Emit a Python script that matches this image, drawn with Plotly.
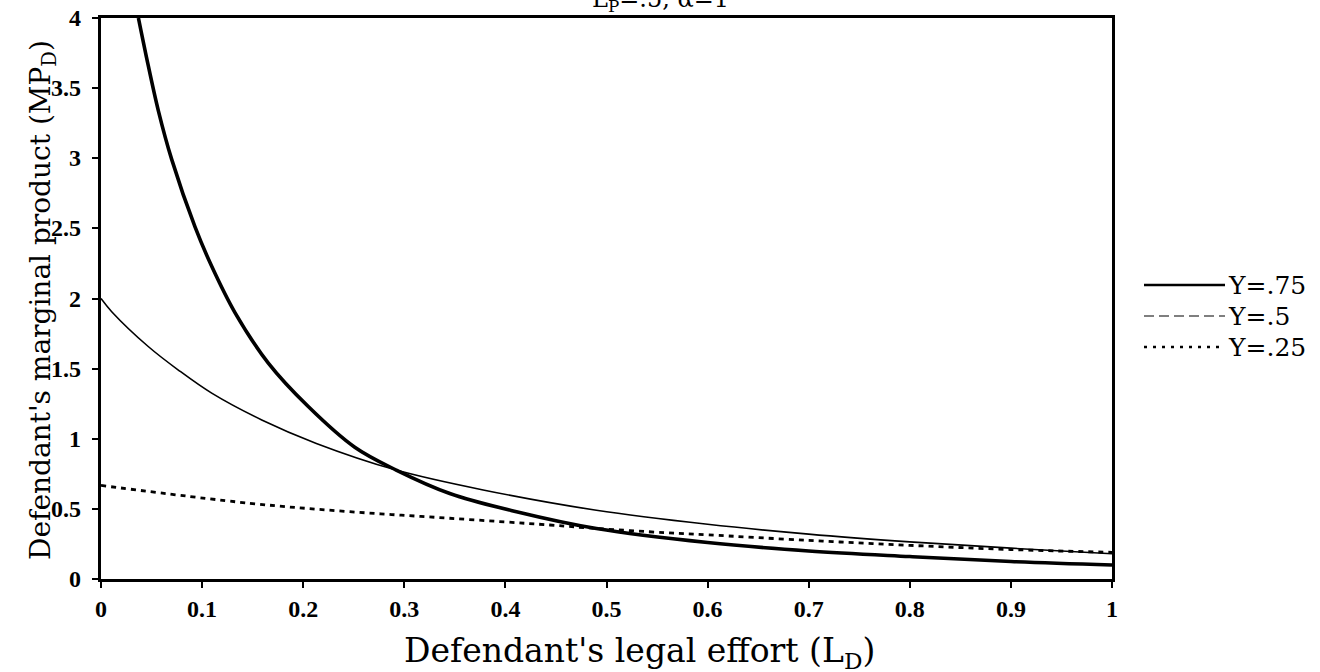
import plotly.graph_objects as go

# Defendant's legal effort (x) and marginal product (y) for each value of Y
ld_75 = [0.037, 0.045, 0.0567, 0.070, 0.093, 0.1095, 0.1325, 0.1655, 0.205, 0.251,
         0.292, 0.345, 0.411, 0.49, 0.6, 0.7, 0.8, 0.9, 1.0]
mp_75 = [4.0, 3.72, 3.34, 2.99, 2.51, 2.23, 1.90, 1.54, 1.23, 0.94,
         0.777, 0.61, 0.48, 0.36, 0.26, 0.20, 0.16, 0.125, 0.10]

ld_50 = [0.0, 0.0106, 0.047, 0.0765, 0.1095, 0.159, 0.213, 0.292, 0.378,
         0.49, 0.6, 0.7, 0.8, 0.9, 1.0]
mp_50 = [2.0, 1.906, 1.656, 1.49, 1.325, 1.134, 0.967, 0.777, 0.635,
         0.49, 0.39, 0.32, 0.265, 0.22, 0.18]

ld_25 = [0.0, 0.147, 0.246, 0.345, 0.444, 0.49, 0.559, 0.6, 0.7, 0.8, 0.9, 1.0]
mp_25 = [0.667, 0.54, 0.48, 0.433, 0.385, 0.36, 0.33, 0.315, 0.275, 0.24, 0.21, 0.19]

x_ticks = [0, 0.1, 0.2, 0.3, 0.4, 0.5, 0.6, 0.7, 0.8, 0.9, 1]
x_labels = ["0", "0.1", "0.2", "0.3", "0.4", "0.5", "0.6", "0.7", "0.8", "0.9", "1"]
y_ticks = [0, 0.5, 1, 1.5, 2, 2.5, 3, 3.5, 4]
y_labels = ["0", "0.5", "1", "1.5", "2", "2.5", "3", "3.5", "4"]

W, H = 1320, 672
L, R, T, B = 101, 1112, 18, 579
SERIF = "Liberation Serif"
WIDE_SERIF = "DejaVu Serif"


def px(xp):
    return (xp - L) / (R - L)


def py(yp):
    return (B - yp) / (B - T)


fig = go.Figure()
fig.add_trace(go.Scatter(x=ld_75, y=mp_75, mode="lines", name="Y=.75",
                         line=dict(color="black", width=3.6, shape="spline", smoothing=1.0),
                         showlegend=False))
fig.add_trace(go.Scatter(x=ld_50, y=mp_50, mode="lines", name="Y=.5",
                         line=dict(color="black", width=1.6, shape="spline", smoothing=1.0),
                         showlegend=False))
fig.add_trace(go.Scatter(x=ld_25, y=mp_25, mode="lines", name="Y=.25",
                         line=dict(color="black", width=2.8, dash="5px,5px",
                                   shape="spline", smoothing=1.0),
                         showlegend=False))

tickfont = dict(family=SERIF, size=24, color="black")
fig.update_xaxes(range=[0, 1], tickvals=x_ticks, ticktext=[f"<b>{t}</b>" for t in x_labels],
                 tickfont=tickfont, showgrid=False, zeroline=False,
                 showline=True, linecolor="black", linewidth=3, mirror=True,
                 ticks="outside", ticklen=6, tickwidth=2, tickcolor="black")
fig.update_yaxes(range=[0, 4], tickvals=y_ticks, showticklabels=False,
                 showgrid=False, zeroline=False,
                 showline=True, linecolor="black", linewidth=3, mirror=True,
                 ticks="outside", ticklen=6, tickwidth=2, tickcolor="black")

annotations = [
    dict(text="L<sub>P</sub>=.5, α=1", x=px(660), y=py(0), xref="paper", yref="paper",
         xanchor="center", yanchor="middle", showarrow=False,
         font=dict(family=WIDE_SERIF, size=24, color="black")),
    dict(text="Defendant's marginal product (MP<sub>D</sub>)", x=px(42), y=py(300),
         xref="paper", yref="paper", textangle=-90, xanchor="center", yanchor="middle",
         showarrow=False, font=dict(family=WIDE_SERIF, size=28, color="black")),
    dict(text="Defendant's legal effort (L<sub>D</sub>)", x=px(639), y=py(652),
         xref="paper", yref="paper", xanchor="center", yanchor="middle",
         showarrow=False, font=dict(family=WIDE_SERIF, size=33, color="black")),
]

# y tick labels, set a little further from the axis line
for val, lab in zip(y_ticks, y_labels):
    annotations.append(dict(text=f"<b>{lab}</b>", x=px(83), y=val, xref="paper", yref="y",
                            xanchor="right", yanchor="middle", showarrow=False,
                            font=tickfont))

# custom legend on the right
legend_rows = [("Y=.75", 285, "solid", 2.6), ("Y=.5", 316, "10px,5px", 1.2),
               ("Y=.25", 347, "3px,6px", 2.4)]
shapes = []
for label, yp, dash, w in legend_rows:
    shapes.append(dict(type="line", xref="paper", yref="paper",
                       x0=px(1144), x1=px(1225), y0=py(yp), y1=py(yp),
                       line=dict(color="black", width=w, dash=dash)))
    annotations.append(dict(text=label, x=px(1226), y=py(yp), xref="paper", yref="paper",
                            xanchor="left", yanchor="middle", showarrow=False,
                            font=dict(family=WIDE_SERIF, size=25, color="black")))

fig.update_layout(width=W, height=H, margin=dict(l=L, r=W - R, t=T, b=H - B),
                  plot_bgcolor="white", paper_bgcolor="white",
                  annotations=annotations, shapes=shapes, showlegend=False)

fig.write_html("out.html")
